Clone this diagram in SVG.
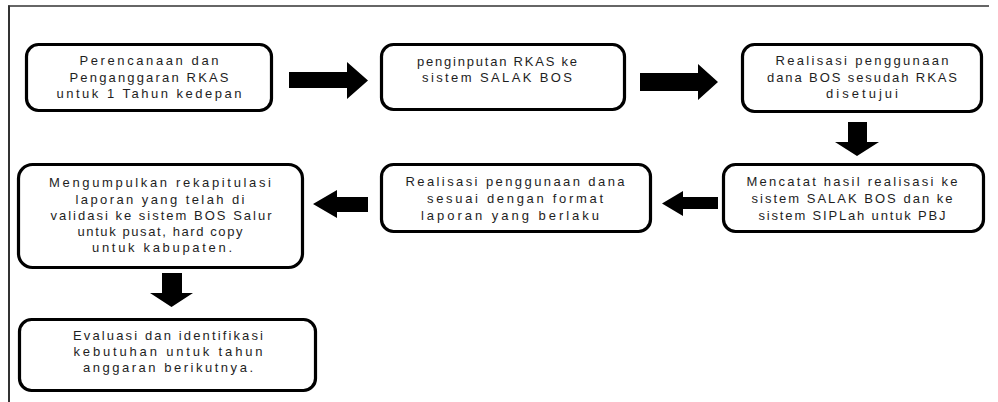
<svg xmlns="http://www.w3.org/2000/svg" width="998" height="402" viewBox="0 0 998 402">
<style>
.box{fill:#fff;stroke:#000;stroke-width:3.2}
.t{font-family:"Liberation Sans",Arial,sans-serif;font-size:13px;fill:#1e1e1e;text-anchor:middle}
.arr{fill:#000}
.frame{stroke:#333;fill:none}
</style>
<rect width="998" height="402" fill="#fff"/>
<line class="frame" x1="8" y1="6" x2="989" y2="6" stroke-width="1.5"/>
<line class="frame" x1="9" y1="5.5" x2="9" y2="402" stroke-width="2"/>
<g id="connectors">
<polygon class="arr" points="289,72 347,72 347,62 368,80.5 347,99 347,88 289,88"/>
<polygon class="arr" points="640,73 698,73 698,64 718,82 698,100 698,91 640,91"/>
<polygon class="arr" points="848,122 867,122 867,142 879,142 857,156 835,142 848,142"/>
<polygon class="arr" points="718,197 683,197 683,191 662,203.5 683,216 683,209 718,209"/>
<polygon class="arr" points="368,197 337,197 337,190 313,204 337,218 337,212 368,212"/>
<polygon class="arr" points="162,273 182,273 182,293 193,293 171.5,307 150,293 162,293"/>
</g>
<g id="n1">
<rect class="box" x="26.5" y="44.5" width="245" height="66" rx="12"/>
<text class="t" x="149" y="65" textLength="139" lengthAdjust="spacing">Perencanaan dan</text>
<text class="t" x="149" y="82" textLength="159" lengthAdjust="spacing">Penganggaran RKAS</text>
<text class="t" x="149" y="98" textLength="185" lengthAdjust="spacing">untuk 1 Tahun kedepan</text>
</g>
<g id="n2">
<rect class="box" x="381.5" y="44.5" width="243" height="65" rx="12"/>
<text class="t" x="497" y="66" textLength="160" lengthAdjust="spacing">penginputan RKAS ke</text>
<text class="t" x="497" y="82" textLength="150" lengthAdjust="spacing">sistem SALAK BOS</text>
</g>
<g id="n3">
<rect class="box" x="742.5" y="44.5" width="239" height="67" rx="12"/>
<text class="t" x="862" y="65" textLength="173" lengthAdjust="spacing">Realisasi penggunaan</text>
<text class="t" x="862" y="82" textLength="190" lengthAdjust="spacing">dana BOS sesudah RKAS</text>
<text class="t" x="862" y="98" textLength="72" lengthAdjust="spacing">disetujui</text>
</g>
<g id="n4">
<rect class="box" x="723.5" y="164.5" width="260" height="67" rx="12"/>
<text class="t" x="852" y="186" textLength="211" lengthAdjust="spacing">Mencatat hasil realisasi ke</text>
<text class="t" x="852" y="203" textLength="201" lengthAdjust="spacing">sistem SALAK BOS dan ke</text>
<text class="t" x="852" y="220" textLength="187" lengthAdjust="spacing">sistem SIPLah untuk PBJ</text>
</g>
<g id="n5">
<rect class="box" x="381.5" y="164.5" width="269" height="67" rx="12"/>
<text class="t" x="515" y="186" textLength="219" lengthAdjust="spacing">Realisasi penggunaan dana</text>
<text class="t" x="515" y="203" textLength="176" lengthAdjust="spacing">sesuai dengan format</text>
<text class="t" x="510" y="220" textLength="178" lengthAdjust="spacing">laporan yang berlaku</text>
</g>
<g id="n6">
<rect class="box" x="18.5" y="164.5" width="284" height="103" rx="14"/>
<text class="t" x="160" y="187" textLength="222" lengthAdjust="spacing">Mengumpulkan rekapitulasi</text>
<text class="t" x="160" y="204" textLength="169" lengthAdjust="spacing">laporan yang telah di</text>
<text class="t" x="161" y="220" textLength="221" lengthAdjust="spacing">validasi ke sistem BOS Salur</text>
<text class="t" x="160" y="236" textLength="165" lengthAdjust="spacing">untuk pusat, hard copy</text>
<text class="t" x="162" y="252" textLength="140" lengthAdjust="spacing">untuk kabupaten.</text>
</g>
<g id="n7">
<rect class="box" x="19.5" y="319.5" width="296" height="71" rx="12"/>
<text class="t" x="168" y="340" textLength="190" lengthAdjust="spacing">Evaluasi dan identifikasi</text>
<text class="t" x="168" y="356" textLength="189" lengthAdjust="spacing">kebutuhan untuk tahun</text>
<text class="t" x="168" y="372" textLength="170" lengthAdjust="spacing">anggaran berikutnya.</text>
</g>
</svg>
